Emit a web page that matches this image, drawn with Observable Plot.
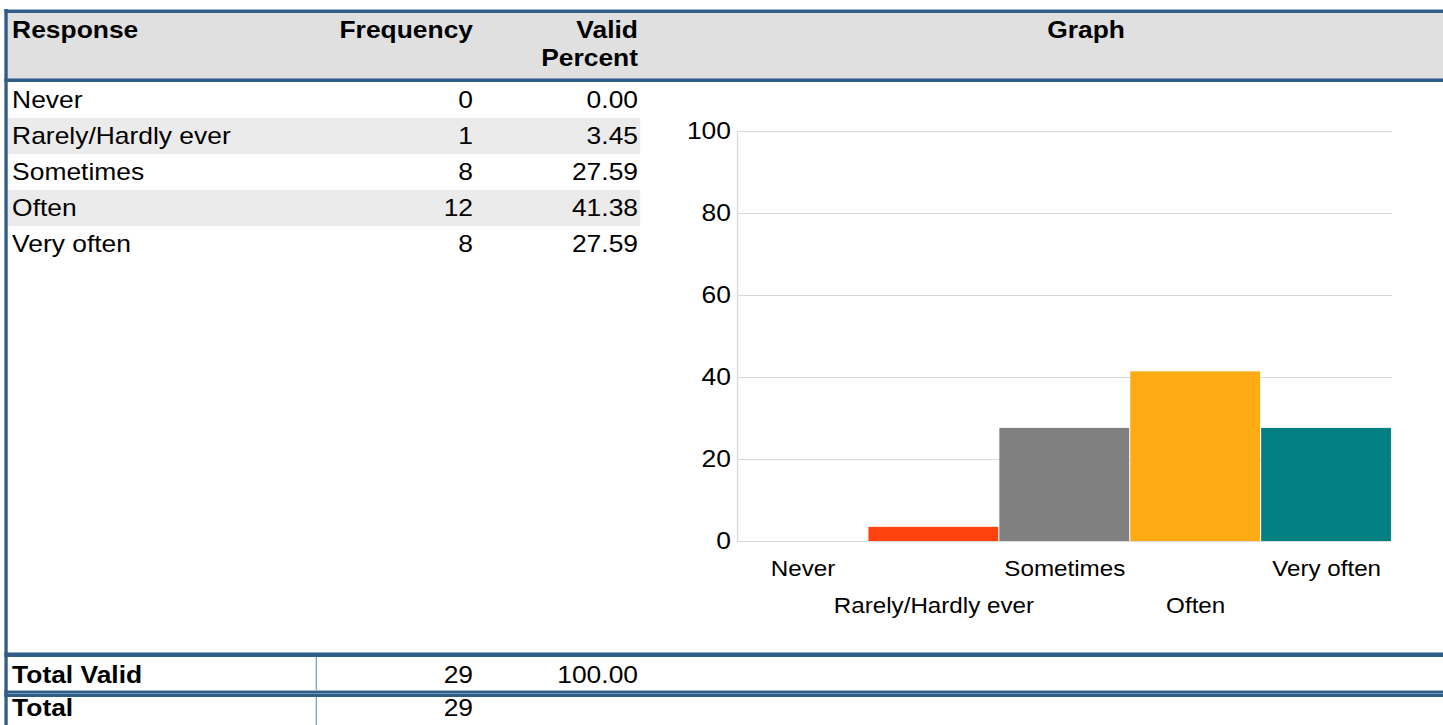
<!DOCTYPE html>
<html>
<head>
<meta charset="utf-8">
<script src="https://cdn.jsdelivr.net/npm/d3@7"></script>
<script src="https://cdn.jsdelivr.net/npm/@observablehq/plot@0.6"></script>
<style>
html,body{margin:0;padding:0;background:#fff;overflow:hidden;width:1443px;height:725px;}
#page{position:absolute;left:0;top:0;width:1312px;height:725px;transform:scaleX(1.1);transform-origin:0 0;font-family:"Liberation Sans",Arial,sans-serif;color:#000;}
.a{position:absolute;white-space:nowrap;}
.dark{background:#2f5d87;}
.txt{font-size:24px;line-height:28px;}
.b{font-weight:bold;}
.r{text-align:right;}
</style>
</head>
<body>
<div id="page">
  <!-- header band -->
  <div class="a" style="left:4.4px;right:0;top:12px;height:66px;background:#e0e0e0;"></div>
  <div class="a dark" style="left:4.4px;right:0;top:9px;height:4px;border-top:1px solid #9db5cc;box-sizing:border-box;"></div>
  <div class="a dark" style="left:4.4px;right:0;top:78px;height:4px;border-top:1px solid #7d9dbd;box-sizing:border-box;"></div>
  <div id="rows"></div>
  <!-- footer lines -->
  <div class="a dark" style="left:4.4px;right:0;top:652px;height:5px;border-top:1px solid #8fabc7;box-sizing:border-box;"></div>
  <div class="a dark" style="left:4.4px;right:0;top:690px;height:7px;border-top:1px solid #9db5cc;box-sizing:border-box;"></div>
  <div class="a" style="left:4.4px;right:0;top:693px;height:1px;background:#7597b8;"></div>
  <div class="a" style="left:286.8px;top:657px;width:1.2px;height:33px;background:#6a8db0;"></div>
  <div class="a" style="left:286.8px;top:697px;width:1.2px;height:28px;background:#6a8db0;"></div>
  <!-- left border -->
  <div class="a dark" style="left:4.4px;top:9px;width:2.7px;height:716px;"></div>
  <!-- header texts -->
  <div class="a txt b" style="left:11px;top:16px;">Response</div>
  <div class="a txt b r" style="left:290px;width:140px;top:16px;">Frequency</div>
  <div class="a txt b r" style="left:440px;width:140px;top:16px;">Valid<br>Percent</div>
  <div class="a txt b" style="left:887.3px;width:200px;top:16px;text-align:center;">Graph</div>
  <!-- footer texts -->
  <div class="a txt b" style="left:11px;top:661px;">Total Valid</div>
  <div class="a txt r" id="tvF" style="left:290px;width:140px;top:661px;"></div>
  <div class="a txt r" id="tvP" style="left:440px;width:140px;top:661px;"></div>
  <div class="a txt b" style="left:11px;top:694px;">Total</div>
  <div class="a txt r" id="tF" style="left:290px;width:140px;top:694px;"></div>
  <div id="chart" class="a" style="left:590px;top:100px;"></div>
</div>
<script>
// ---- data ----
const responses = ["Never", "Rarely/Hardly ever", "Sometimes", "Often", "Very often"];
const frequencies = [0, 1, 8, 12, 8];
const validPercents = [0.00, 3.45, 27.59, 41.38, 27.59];
const barColors = ["#004586", "#ff420e", "#808080", "#ffab13", "#008080"];
const yTicks = [0, 20, 40, 60, 80, 100];
const totalValid = 29;
const totalValidPercent = 100.00;
const total = 29;

// ---- table rows ----
const rowsEl = document.getElementById("rows");
responses.forEach((r, i) => {
  const top = 82 + 36 * i;
  if (i % 2 === 1) {
    const band = document.createElement("div");
    band.className = "a";
    band.style.cssText = `left:6.8px;width:575px;top:${top}px;height:36px;background:#ebebeb;`;
    rowsEl.appendChild(band);
  }
  const mk = (text, css, cls) => {
    const d = document.createElement("div");
    d.className = "a txt " + (cls || "");
    d.style.cssText = css + `top:${top}px;line-height:36px;`;
    d.textContent = text;
    rowsEl.appendChild(d);
  };
  mk(r, "left:11px;");
  mk(String(frequencies[i]), "left:290px;width:140px;", "r");
  mk(validPercents[i].toFixed(2), "left:440px;width:140px;", "r");
});
document.getElementById("tvF").textContent = String(totalValid);
document.getElementById("tvP").textContent = totalValidPercent.toFixed(2);
document.getElementById("tF").textContent = String(total);

// ---- chart ----
const data = responses.map((r, i) => ({response: r, percent: validPercents[i], color: barColors[i]}));
const chart = Plot.plot({
  width: 696,
  height: 525,
  marginLeft: 80,
  marginRight: 20.5,
  marginTop: 31,
  marginBottom: 84,
  style: {fontFamily: "Liberation Sans, Arial, sans-serif", color: "#000", background: "#fff", overflow: "visible"},
  x: {domain: responses, padding: 0, label: null},
  y: {domain: [0, 100], label: null},
  color: {type: "identity"},
  marks: [
    Plot.gridY(yTicks, {stroke: "#d9d9d9", strokeOpacity: 1, strokeWidth: 1}),
    Plot.frame({anchor: "left", stroke: "#d9d9d9", strokeWidth: 1.2}),
    Plot.barY(data, {x: "response", y: "percent", fill: "color", insetLeft: 0.5, insetRight: 0.5}),
    Plot.axisY(yTicks, {tickSize: 0, tickPadding: 6, fontSize: 24, label: null, tickFormat: d => String(d)}),
    Plot.axisX(responses.filter((d, i) => i % 2 === 0), {tickSize: 0, tickPadding: 19, fontSize: 22, label: null}),
    Plot.axisX(responses.filter((d, i) => i % 2 === 1), {tickSize: 0, tickPadding: 56, fontSize: 22, label: null})
  ]
});
document.getElementById("chart").appendChild(chart);
</script>
</body>
</html>
